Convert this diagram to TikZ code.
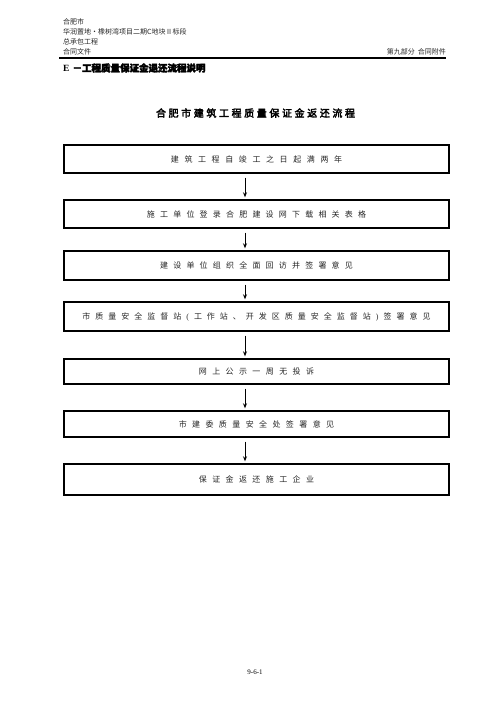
\documentclass[tikz,border=0pt]{standalone}
\usepackage{fontspec}
\setmainfont{Liberation Serif}
\newfontfamily\cjk{Noto Sans CJK SC}
\newfontfamily\cjkb[FakeBold=3]{Noto Sans CJK SC}
\usetikzlibrary{arrows.meta}
\newlength\lsp
\def\sploop#1{\ifx#1\relax\else#1\hspace{\lsp}\expandafter\sploop\fi}
\newcommand\spaced[2]{\setlength\lsp{#1}\sploop#2\relax\unskip}
\newcommand\lpar{{\rmfamily(}}
\newcommand\rpar{{\rmfamily)}}
\tikzset{
  hdr/.style={inner sep=0pt, font=\cjk\fontsize{7}{8}\selectfont, text=black!85},
  flowbox/.style={draw, line width=1.4pt, minimum width=385pt, inner sep=0pt,
    font=\cjk\fontsize{8}{9}\selectfont, text=black!85},
  arr/.style={line width=1pt, -{Stealth[length=5pt,width=4pt]}, shorten <=4pt, shorten >=2pt}
}
\begin{document}
\begin{tikzpicture}[x=1pt,y=-1pt]
\useasboundingbox (0,0) rectangle (496,702);
% header
\node[hdr, anchor=west] (h1) at (63,22) {合肥市};
\node[hdr, anchor=west] (h2) at (63,32) {华润置地•橡树湾项目二期C地块Ⅱ标段};
\node[hdr, anchor=west] (h3) at (63,42) {总承包工程};
\node[hdr, anchor=west] (h4) at (63,52) {合同文件};
\node[hdr, anchor=east] (h5) at (446,52) {第九部分\hspace{3pt}合同附件};
\coordinate (rl) at (59,58);
\coordinate (rr) at (446,58);
\draw[line width=1.3pt] (rl) -- (rr);
\node[anchor=west, inner sep=0pt] (sec) at (63,68) {\fontsize{9.5}{11}\selectfont\bfseries E\hspace{3pt}{\cjkb －工程质量保证金退还流程说明}};
\node[inner sep=0pt] (title) at (255.5,113) {\cjkb\fontsize{10}{12}\selectfont\spaced{2.6pt}{合肥市建筑工程质量保证金返还流程}};
% boxes
\node[flowbox, minimum height=28pt] (b1) at (256.5,159) {\spaced{5.6pt}{建筑工程自竣工之日起满两年}};
\node[flowbox, minimum height=28pt] (b2) at (256.5,214) {\spaced{5.2pt}{施工单位登录合肥建设网下载相关表格}};
\node[flowbox, minimum height=29pt] (b3) at (256.5,265.5) {\spaced{5.2pt}{建设单位组织全面回访并签署意见}};
\node[flowbox, minimum height=29pt] (b4) at (256.5,316.5) {\spaced{5.0pt}{市质量安全监督站\lpar 工作站、开发区质量安全监督站\rpar 签署意见}};
\node[flowbox, minimum height=25pt] (b5) at (256.5,371.5) {\spaced{5.4pt}{网上公示一周无投诉}};
\node[flowbox, minimum height=26pt] (b6) at (256.5,424) {\spaced{5.4pt}{市建委质量安全处签署意见}};
\node[flowbox, minimum height=31pt] (b7) at (256.5,479.5) {\spaced{5.4pt}{保证金返还施工企业}};
\coordinate (ax) at (245,0);
\draw[arr] (b1.south -| ax) -- (b2.north -| ax);
\draw[arr] (b2.south -| ax) -- (b3.north -| ax);
\draw[arr] (b3.south -| ax) -- (b4.north -| ax);
\draw[arr] (b4.south -| ax) -- (b5.north -| ax);
\draw[arr] (b5.south -| ax) -- (b6.north -| ax);
\draw[arr] (b6.south -| ax) -- (b7.north -| ax);
\node[inner sep=0pt, font=\fontsize{7}{8}\selectfont] (pg) at (255,672) {9-6-1};
\end{tikzpicture}
\end{document}
